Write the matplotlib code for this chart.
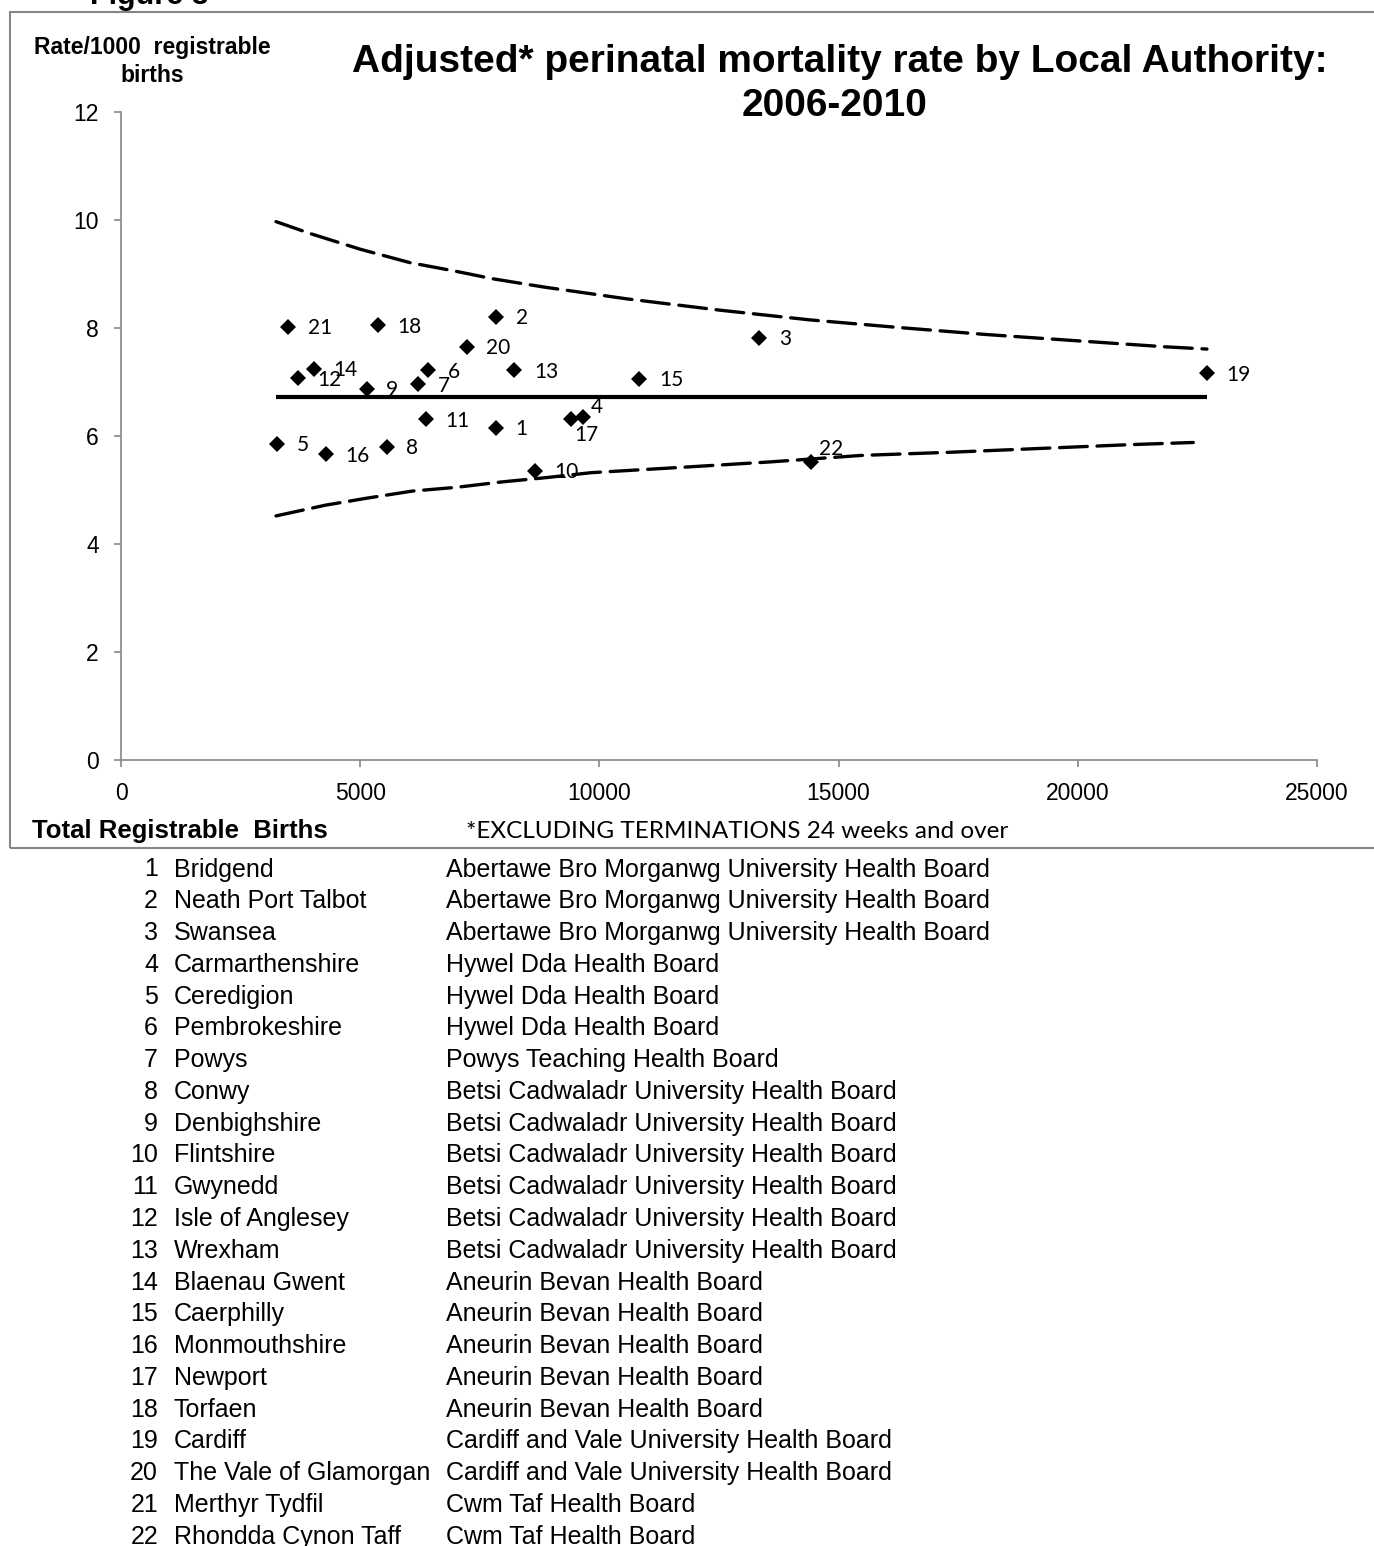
import matplotlib
matplotlib.use("Agg")
import matplotlib.pyplot as plt
from matplotlib.patches import Rectangle

# Local Authority data: total registrable births and adjusted perinatal mortality rate
la_num = list(range(1, 23))
la_names = ["Bridgend", "Neath Port Talbot", "Swansea", "Carmarthenshire", "Ceredigion",
            "Pembrokeshire", "Powys", "Conwy", "Denbighshire", "Flintshire", "Gwynedd",
            "Isle of Anglesey", "Wrexham", "Blaenau Gwent", "Caerphilly", "Monmouthshire",
            "Newport", "Torfaen", "Cardiff", "The Vale of Glamorgan", "Merthyr Tydfil",
            "Rhondda Cynon Taff"]
health_boards = ["Abertawe Bro Morganwg University Health Board"] * 3 + \
                ["Hywel Dda Health Board"] * 3 + \
                ["Powys Teaching Health Board"] + \
                ["Betsi Cadwaladr University Health Board"] * 6 + \
                ["Aneurin Bevan Health Board"] * 5 + \
                ["Cardiff and Vale University Health Board"] * 2 + \
                ["Cwm Taf Health Board"] * 2
births = [7840, 7840, 13345, 9666, 3265, 6417, 6208, 5560, 5136, 8656, 6375,
          3698, 8225, 4024, 10838, 4281, 9408, 5376, 22700, 7224, 3497, 14419]
rates = [6.15, 8.21, 7.82, 6.36, 5.85, 7.22, 6.96, 5.80, 6.87, 5.36, 6.31,
         7.07, 7.22, 7.24, 7.06, 5.66, 6.31, 8.05, 7.16, 7.65, 8.02, 5.52]

# Wales average and control limits
mean_x = [3240, 22700]
mean_y = [6.73, 6.73]
upper_x = [3240, 3951, 4996, 6041, 6946, 7782, 8828, 10571, 12521, 14402, 16248,
           18074, 19872, 21857, 22700]
upper_y = [9.97, 9.75, 9.46, 9.21, 9.06, 8.91, 8.76, 8.54, 8.33, 8.15, 8.01,
           7.88, 7.77, 7.65, 7.61]
lower_x = [3240, 4279, 5149, 6089, 7017, 7964, 8898, 9818, 11720, 13566, 15468,
           17364, 19225, 21091, 22414]
lower_y = [4.52, 4.72, 4.85, 4.98, 5.05, 5.15, 5.23, 5.32, 5.42, 5.52, 5.64,
           5.70, 5.77, 5.84, 5.88]

x_ticks = [0, 5000, 10000, 15000, 20000, 25000]
y_ticks = [0, 2, 4, 6, 8, 10, 12]

W, H = 1374, 1546
ARIAL = "Liberation Sans"
GREY = "#868686"

plt.rcParams["lines.scale_dashes"] = False
fig = plt.figure(figsize=(W / 100, H / 100), dpi=100)


def fx(px):
    return px / W


def fy(py):
    return 1 - py / H


# chart frame
fig.add_artist(Rectangle((fx(10), fy(848)), 1.0, fy(12) - fy(848), transform=fig.transFigure,
                         fill=False, edgecolor=GREY, lw=1.5))

ax = fig.add_axes([fx(121), fy(760), (1317 - 121) / W, (760 - 112) / H])

ax.plot(mean_x, mean_y, color="black", lw=3, solid_capstyle="butt")
ax.plot(upper_x, upper_y, color="black", lw=2.4, dashes=(20, 7), dash_capstyle="round")
ax.plot(lower_x, lower_y, color="black", lw=2.4, dashes=(20, 7), dash_capstyle="round")
ax.plot(births, rates, "D", color="black", ms=8, mew=0, zorder=5)

# point labels, a few nudged to avoid overlap
label_offsets = {4: (5, 7), 17: (2, -11.5), 22: (6, 9)}
for n, x, y in zip(la_num, births, rates):
    ax.annotate(str(n), (x, y), xytext=label_offsets.get(n, (14, -1)), textcoords="offset points",
                fontsize=15, family="Lato", va="center", ha="left", zorder=6)

ax.set_xlim(0, 25000)
ax.set_ylim(0, 12)
ax.set_xticks(x_ticks)
ax.set_yticks(y_ticks)
ax.set_xticklabels([str(t) for t in x_ticks], family=ARIAL, fontsize=16.5)
ax.set_yticklabels([str(t) for t in y_ticks], family=ARIAL, fontsize=16.5)
ax.tick_params(axis="x", direction="out", length=5, width=1.2, color=GREY, pad=11)
ax.tick_params(axis="y", direction="out", length=5, width=1.2, color=GREY, pad=11)
for side in ["top", "right"]:
    ax.spines[side].set_visible(False)
for side in ["left", "bottom"]:
    ax.spines[side].set_color(GREY)
    ax.spines[side].set_linewidth(1.2)

# titles and axis labels
fig.text(fx(90), fy(4), "Figure 3", family=ARIAL, weight="bold", fontsize=22, va="baseline")
fig.text(fx(152), fy(54), "Rate/1000  registrable", family=ARIAL, weight="bold", fontsize=16.5,
         ha="center", va="baseline")
fig.text(fx(152), fy(82), "births", family=ARIAL, weight="bold", fontsize=16.5,
         ha="center", va="baseline")
fig.text(fx(840), fy(72), "Adjusted* perinatal mortality rate by Local Authority:", family=ARIAL,
         weight="bold", fontsize=28, ha="center", va="baseline")
fig.text(fx(835), fy(116), "2006-2010", family=ARIAL, weight="bold", fontsize=28,
         ha="center", va="baseline")
fig.text(fx(32), fy(838), "Total Registrable  Births", family=ARIAL, weight="bold", fontsize=18.5,
         va="baseline")
fig.text(fx(466), fy(838), "*EXCLUDING TERMINATIONS 24 weeks and over", family="Lato",
         fontsize=17.5, va="baseline")

# key to the numbered Local Authorities
for i, (n, name, board) in enumerate(zip(la_num, la_names, health_boards)):
    base = fy(876.5 + i * 31.77)
    fig.text(fx(158), base, str(n), family=ARIAL, fontsize=18, ha="right", va="baseline")
    fig.text(fx(174), base, name, family=ARIAL, fontsize=18, va="baseline")
    fig.text(fx(446), base, board, family=ARIAL, fontsize=18, va="baseline")

fig.savefig("out.png", dpi=100)
